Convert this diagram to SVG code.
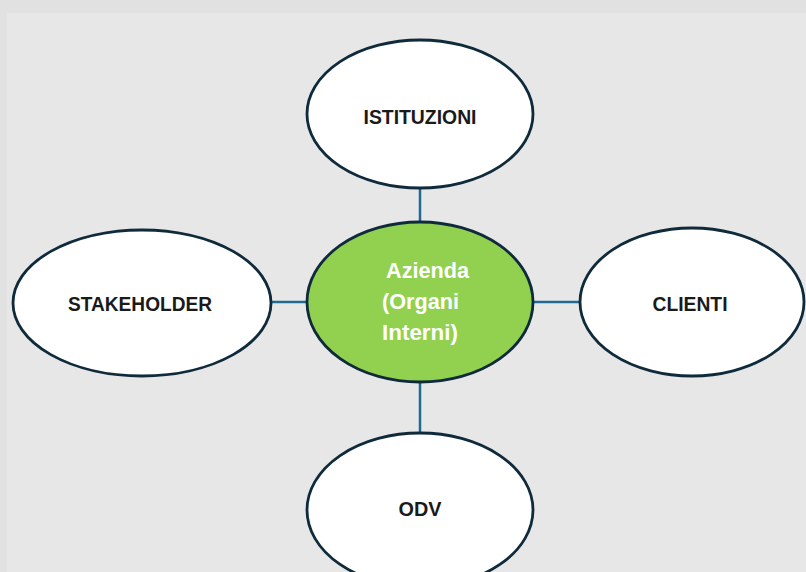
<svg xmlns="http://www.w3.org/2000/svg" width="806" height="572" viewBox="0 0 806 572">
<style>
.node{fill:#ffffff;stroke:#0f2b3b;stroke-width:2.8}
.center{fill:#92d050;stroke:#0f2b3b;stroke-width:2.8}
.lbl{font-family:"Liberation Sans",Arial,sans-serif;font-weight:bold;font-size:20.5px;fill:#1a1a1a;text-anchor:middle}
.wl{font-family:"Liberation Sans",Arial,sans-serif;font-weight:bold;font-size:21.5px;fill:#ffffff}
.conn{stroke:#1f6a93;stroke-width:2.5;fill:none}
</style>
<rect x="0" y="0" width="806" height="572" fill="#e1e1e1"/>
<rect x="7" y="13" width="799" height="559" fill="#e7e7e7"/>
<g id="connectors">
<line class="conn" x1="420" y1="188" x2="420" y2="223"/>
<line class="conn" x1="271" y1="302" x2="308" y2="302"/>
<line class="conn" x1="531" y1="302" x2="581" y2="302"/>
<line class="conn" x1="420" y1="382" x2="420" y2="434"/>
</g>
<g id="istituzioni">
<ellipse class="node" cx="420" cy="114" rx="113" ry="74"/>
<text class="lbl" x="420" y="124" textLength="113" lengthAdjust="spacingAndGlyphs">ISTITUZIONI</text>
</g>
<g id="stakeholder">
<ellipse class="node" cx="142" cy="303" rx="129" ry="73"/>
<text class="lbl" x="140" y="311" textLength="144" lengthAdjust="spacingAndGlyphs">STAKEHOLDER</text>
</g>
<g id="clienti">
<ellipse class="node" cx="692" cy="302" rx="112" ry="74"/>
<text class="lbl" x="690" y="311" textLength="75" lengthAdjust="spacingAndGlyphs">CLIENTI</text>
</g>
<g id="odv">
<ellipse class="node" cx="420" cy="510" rx="113" ry="77"/>
<text class="lbl" x="420" y="516" textLength="43" lengthAdjust="spacingAndGlyphs">ODV</text>
</g>
<g id="azienda">
<ellipse class="center" cx="420" cy="302" rx="113" ry="80"/>
<text class="wl" x="386" y="278" textLength="83" lengthAdjust="spacingAndGlyphs">Azienda</text>
<text class="wl" x="382" y="309" textLength="77" lengthAdjust="spacingAndGlyphs">(Organi</text>
<text class="wl" x="382" y="340" textLength="76" lengthAdjust="spacingAndGlyphs">Interni)</text>
</g>
</svg>
